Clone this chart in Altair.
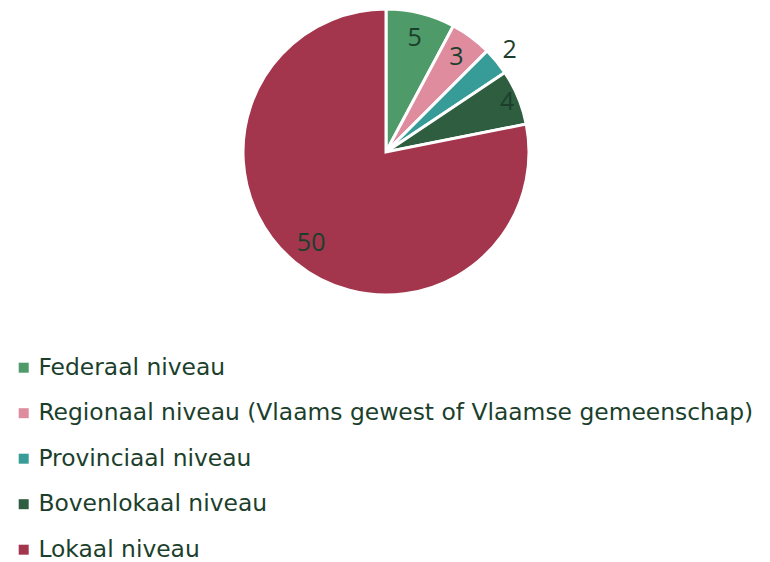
import altair as alt
import pandas as pd

categories = [
    "Federaal niveau",
    "Regionaal niveau (Vlaams gewest of Vlaamse gemeenschap)",
    "Provinciaal niveau",
    "Bovenlokaal niveau",
    "Lokaal niveau",
]
values = [5, 3, 2, 4, 50]
colors = ["#4E9A68", "#DE8C9E", "#379B97", "#2E5E3F", "#A3354C"]

df = pd.DataFrame({"cat": categories, "val": values, "idx": list(range(len(values)))})

text_color = "#1B3F2C"
cx, cy, R = 378, 144, 143

arcs = alt.Chart(df).mark_arc(outerRadius=R, stroke="white", strokeWidth=3).encode(
    theta=alt.Theta("val:Q", stack=True),
    order=alt.Order("idx:Q"),
    x=alt.value(cx),
    y=alt.value(cy),
    color=alt.Color(
        "cat:N",
        scale=alt.Scale(domain=categories, range=colors),
        sort=categories,
        legend=alt.Legend(
            title=None,
            orient="none",
            legendX=4,
            legendY=348,
            direction="vertical",
            symbolType="square",
            symbolSize=100,
            symbolStrokeWidth=0,
            labelFontSize=23.4,
            labelFont="DejaVu Sans",
            labelColor=text_color,
            labelLimit=800,
            labelOffset=3,
            rowPadding=20.5,
        ),
    ),
)

labels = (
    alt.Chart(df)
    .transform_window(cum="sum(val)", sort=[alt.SortField("idx")])
    .transform_joinaggregate(total="sum(val)")
    .transform_calculate(
        ang="2 * PI * (datum.cum - datum.val / 2) / datum.total",
        r="datum.val == 2 ? 160 : (datum.val == 4 ? 131 : 118)",
    )
    .mark_text(fontSize=25, font="Open Sans", color=text_color)
    .encode(
        x=alt.value(cx),
        y=alt.value(cy),
        theta=alt.Theta("ang:Q", scale=None, stack=None),
        radius=alt.Radius("r:Q", scale=None, stack=None),
        text=alt.Text("val:Q"),
    )
)

chart = alt.layer(arcs, labels).resolve_scale(theta="independent").properties(
    width=754,
    height=558,
    autosize=alt.AutoSizeParams(type="none"),
    padding=0,
).configure_view(stroke=None)

chart.save("out.html", embed_options={"renderer": "svg", "actions": False})
